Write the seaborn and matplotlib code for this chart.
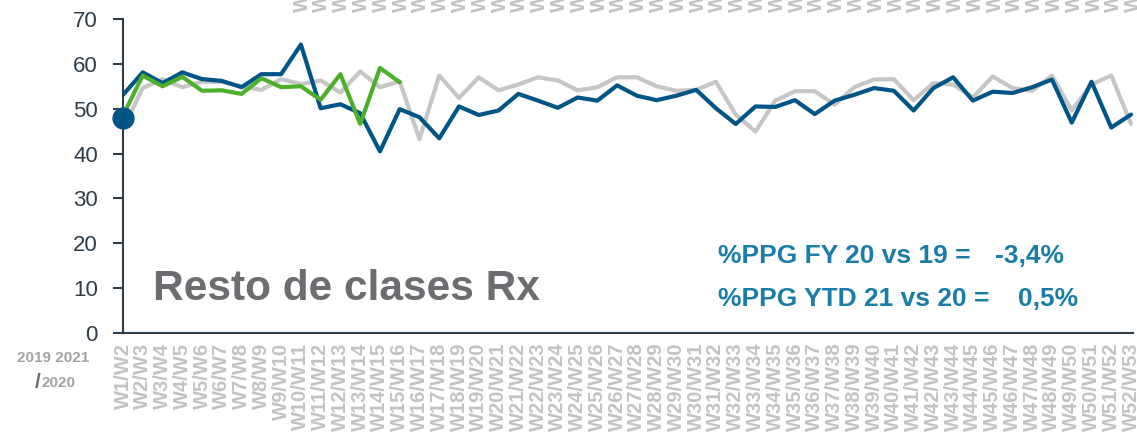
import numpy as np
import pandas as pd
import matplotlib
matplotlib.use("Agg")
import matplotlib.pyplot as plt
import seaborn as sns

# ---------------- data ----------------
week_labels = [f"W{i}/W{i+1}" for i in range(1, 53)]

serie_2019 = [45.5, 54.6, 56.6, 54.8, 56.0, 56.0, 55.0, 54.2, 56.6, 55.5,
              56.3, 53.6, 58.3, 54.8, 56.1, 43.2, 57.4, 52.4, 57.0, 54.1,
              55.4, 57.0, 56.3, 54.1, 54.8, 57.0, 57.0, 55.0, 54.0, 54.2,
              56.0, 48.7, 44.9, 51.8, 53.9, 53.9, 50.9, 54.8, 56.5, 56.6,
              51.9, 55.7, 55.4, 52.5, 57.2, 54.6, 54.0, 57.4, 49.6, 55.4,
              57.4, 46.6]

serie_2020 = [53.1, 58.1, 55.7, 58.1, 56.6, 56.2, 54.8, 57.7, 57.7, 64.3,
              50.1, 51.0, 49.0, 40.5, 49.9, 48.1, 43.4, 50.5, 48.6, 49.6,
              53.3, 51.8, 50.2, 52.5, 51.8, 55.2, 52.9, 51.9, 52.9, 54.2,
              50.1, 46.6, 50.5, 50.4, 51.9, 48.8, 51.8, 53.1, 54.6, 54.0,
              49.6, 54.6, 57.0, 51.8, 53.8, 53.5, 54.8, 56.5, 46.9, 56.0,
              45.8, 48.7]

serie_2021 = [48.5, 57.4, 55.0, 57.1, 54.0, 54.1, 53.3, 56.8, 54.8, 55.0,
              52.0, 57.7, 46.6, 59.1, 55.9]

marker_value = [47.9]

y_ticks = [0, 10, 20, 30, 40, 50, 60, 70]

title_text = "Resto de clases Rx"
ann_labels = ["%PPG FY 20 vs 19 =", "%PPG YTD 21 vs 20 ="]
ann_values = ["-3,4%", "0,5%"]

# ---------------- style ----------------
sns.set_style("white")
plt.rcParams['font.family'] = ['Liberation Sans', 'DejaVu Sans']

C_GRAY = "#C6C6C6"
C_BLUE = "#005587"
C_GREEN = "#4DB02B"
C_ANN = "#1A7DA9"
C_AXIS = "#2F3D48"

fig = plt.figure(figsize=(11.37, 4.34), dpi=100)
ax = fig.add_axes([123 / 1137, 1 - 333 / 434, 1010 / 1137, 314 / 434])

df19 = pd.DataFrame({"x": np.arange(len(serie_2019)), "y": serie_2019})
df20 = pd.DataFrame({"x": np.arange(len(serie_2020)), "y": serie_2020})
df21 = pd.DataFrame({"x": np.arange(len(serie_2021)), "y": serie_2021})

sns.lineplot(data=df19, x="x", y="y", ax=ax, color=C_GRAY, lw=3.0, sort=False)
sns.lineplot(data=df20, x="x", y="y", ax=ax, color=C_BLUE, lw=3.0, sort=False)
sns.lineplot(data=df21, x="x", y="y", ax=ax, color=C_GREEN, lw=3.0, sort=False)
ax.plot([0], marker_value, marker="o", ms=15, color=C_BLUE, clip_on=False, zorder=10)

ax.set_xlim(0, len(week_labels) - 1 + 0.1)
ax.set_ylim(0, 70)
ax.set_yticks(y_ticks)
ax.set_yticklabels([str(v) for v in y_ticks], fontsize=16, color=C_AXIS)
ax.set_xticks(np.arange(len(week_labels)))
ax.set_xticklabels(week_labels, rotation=90, fontsize=14.5, fontweight="bold",
                   color="#C3C3C3", va="top", ha="center")
ax.tick_params(axis="y", length=7, width=1.5, color=C_AXIS, pad=11, left=True)
ax.tick_params(axis="x", length=0, pad=7)
ax.set_xlabel("")
ax.set_ylabel("")
for s in ["top", "right"]:
    ax.spines[s].set_visible(False)
for s in ["left", "bottom"]:
    ax.spines[s].set_color(C_AXIS)
    ax.spines[s].set_linewidth(1.5)

# title inside chart
fig.text(153 / 1137, 1 - 300 / 434, title_text, fontsize=30.5, fontweight="bold",
         color="#6B6D70", ha="left", va="baseline")

# annotations
fig.text(718 / 1137, 1 - 263 / 434, ann_labels[0], fontsize=19, fontweight="bold",
         color=C_ANN, ha="left", va="baseline")
fig.text(995 / 1137, 1 - 263 / 434, ann_values[0], fontsize=19, fontweight="bold",
         color=C_ANN, ha="left", va="baseline")
fig.text(718 / 1137, 1 - 306 / 434, ann_labels[1], fontsize=19, fontweight="bold",
         color=C_ANN, ha="left", va="baseline")
fig.text(1018 / 1137, 1 - 306 / 434, ann_values[1], fontsize=19, fontweight="bold",
         color=C_ANN, ha="left", va="baseline")

# year legend text bottom-left
fig.text(53 / 1137, 1 - 358 / 434, "2019 2021", fontsize=11, fontweight="bold",
         color="#A3A3A3", ha="center", va="center")
fig.text(41 / 1137, 1 - 382 / 434, "/", fontsize=15, fontweight="bold",
         color="#6E6E6E", ha="right", va="center")
fig.text(41 / 1137, 1 - 383 / 434, "2020", fontsize=11, fontweight="bold",
         color="#A3A3A3", ha="left", va="center")

# clipped tick labels of an upper chart (only bottom visible)
for k, lab in enumerate(week_labels[9:]):
    fig.text((302 + 19.8 * k) / 1137, 1 - 12 / 434, lab, rotation=90, fontsize=14.5,
             fontweight="bold", color="#C3C3C3", ha="center", va="bottom")

fig.savefig("out.png", dpi=100)
